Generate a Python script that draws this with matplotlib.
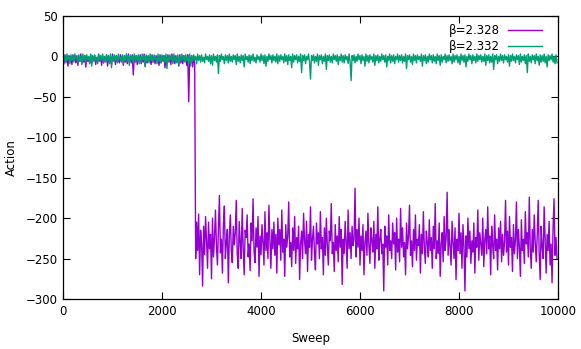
import matplotlib
matplotlib.use("Agg")
import matplotlib.pyplot as plt
import numpy as np

plt.rcParams['font.family'] = ['DejaVu Sans']

step = 20  # sweeps between stored samples

# beta=2.328 : near zero until the tunnelling event, then around -225
beta2328_pre = [-1,-9,2,-6,-3,-12,1,-7,0,-10,2,-5,-2,-8,1,-11,-1,-6,3,-9,
    -2,-7,1,-13,0,-6,-3,-9,2,-8,-1,-5,1,-10,-2,-7,3,-6,0,-11,
    1,-8,-2,-6,2,-12,-1,-7,0,-9,3,-5,-1,-10,1,-7,-2,-8,2,-6,
    0,-11,1,-7,-2,-9,3,-6,-1,-8,2,-23,0,-7,1,-10,-2,-6,2,-9,
    -1,-7,3,-12,0,-8,1,-6,-2,-10,2,-7,-1,-9,1,-5,-3,-11,2,-8,
    0,-6,1,-14,-1,-8,2,-7,0,-10,3,-6,-2,-9,1,-7,-1,-12,2,-8,
    0,-9,1,-6,-2,-11,2,-56,-1,-8,1,-13,0,-9]
beta2328_post = [-250,-205,-240,-195,-270,-215,-232,-284,-210,-245,-198,-228,-262,-205,-238,-220,-275,-200,-248,-225,
    -190,-235,-258,-212,-172,-243,-226,-268,-208,-185,-250,-230,-214,-280,-222,-196,-240,-255,-210,-233,
    -218,-178,-245,-262,-204,-230,-250,-188,-237,-270,-215,-224,-196,-248,-232,-265,-206,-228,-176,-242,
    -255,-212,-236,-198,-272,-222,-245,-208,-230,-258,-192,-240,-218,-250,-184,-228,-262,-214,-238,-205,
    -246,-220,-268,-200,-233,-214,-252,-190,-242,-226,-272,-208,-236,-222,-180,-248,-230,-260,-212,-240,
    -198,-256,-224,-238,-210,-276,-232,-216,-250,-194,-228,-244,-204,-266,-220,-236,-186,-252,-226,-210,
    -242,-264,-206,-232,-218,-250,-192,-238,-224,-270,-212,-246,-200,-234,-258,-216,-228,-182,-244,-230,
    -266,-208,-240,-222,-254,-198,-236,-214,-282,-226,-244,-204,-230,-262,-190,-238,-218,-250,-210,-234,
    -226,-163,-248,-214,-236,-200,-258,-222,-240,-208,-270,-230,-216,-246,-194,-234,-256,-212,-228,-242,
    -204,-262,-220,-238,-186,-252,-226,-214,-244,-232,-290,-210,-236,-222,-258,-196,-240,-228,-250,-206,
    -232,-218,-264,-200,-242,-226,-254,-188,-236,-212,-248,-230,-270,-206,-238,-222,-184,-246,-228,-260,
    -214,-240,-196,-252,-226,-234,-208,-268,-220,-244,-192,-236,-256,-216,-230,-248,-202,-240,-224,-262,
    -210,-238,-182,-250,-228,-244,-206,-272,-232,-218,-254,-198,-240,-226,-168,-246,-214,-236,-258,-204,
    -230,-250,-212,-276,-226,-240,-194,-244,-218,-262,-208,-234,-290,-222,-248,-200,-238,-216,-256,-228,
    -242,-206,-268,-224,-236,-190,-252,-218,-232,-246,-200,-260,-228,-214,-244,-186,-238,-222,-270,-210,
    -234,-250,-196,-240,-226,-264,-212,-238,-204,-254,-220,-246,-230,-178,-242,-216,-258,-198,-236,-224,
    -266,-208,-244,-228,-180,-250,-214,-236,-272,-202,-240,-226,-256,-192,-232,-218,-248,-174,-238,-262,
    -214,-242,-196,-230,-254,-222,-178,-244,-276,-210,-236,-250,-186,-228,-268,-220,-240,-204,-258,-232,
    -280,-212,-176,-246,-224,-250]

# beta=2.332 : stays near zero
beta2332 = [2,-6,1,-8,3,-4,0,-9,2,-5,1,-7,3,-3,-1,-8,2,-6,0,-10,3,-5,1,-7,2,
    -4,0,-8,3,-12,1,-6,2,-5,-1,-9,2,-6,1,-4,3,-8,0,-7,2,-5,1,-9,3,-14,
    0,-6,2,-5,1,-8,3,-4,-1,-7,2,-9,0,-5,3,-6,1,-11,2,-4,0,-8,3,-6,1,
    -5,2,-9,0,-7,3,-4,1,-13,2,-6,0,-8,3,-5,1,-7,2,-4,-1,-9,3,-6,0,-8,
    2,-5,1,-7,3,-15,0,-6,2,-4,1,-9,3,-5,-1,-8,2,-10,0,-6,3,-4,1,-7,2,
    -5,0,-8,3,-12,1,-6,2,-4,0,-9,3,-5,1,-7,2,-6,-1,-8,3,-4,0,-6,2,-9,
    1,-11,3,-5,0,-7,2,-21,1,-6,3,-4,0,-9,2,-5,1,-8,3,-6,0,-7,2,-4,1,
    -10,3,-6,0,-8,2,-5,1,-13,3,-4,0,-7,2,-9,1,-5,3,-6,-1,-8,2,-4,0,-7,
    3,-5,1,-9,2,-12,0,-6,3,-4,1,-8,2,-5,0,-7,3,-9,1,-6,2,-4,0,-8,3,
    -6,1,-10,2,-5,0,-14,3,-7,1,-4,2,-8,0,-6,3,-20,1,-5,2,-9,0,-4,3,-7,
    -28,1,-5,2,-8,0,-6,3,-11,1,-4,2,-9,0,-6,3,-16,1,-5,2,-7,0,-8,3,-4,
    1,-6,2,-10,0,-5,3,-7,1,-8,2,-4,0,-9,3,-6,-30,1,-5,2,-8,0,-6,3,-4,
    1,-9,2,-5,0,-12,3,-6,1,-8,2,-4,0,-7,3,-11,1,-5,2,-8,0,-6,3,-4,1,
    -7,2,-13,0,-5,3,-8,1,-6,2,-9,0,-4,3,-7,1,-5,2,-8,0,-6,3,-15,1,-4,
    2,-7,0,-10,3,-5,1,-8,2,-4,0,-6,3,-12,1,-5,2,-9,0,-7,3,-4,1,-8,2,
    -6,0,-9,3,-5,1,-11,2,-7,0,-4,3,-8,1,-6,2,-5,0,-9,3,-7,1,-4,2,-8,
    0,-10,3,-5,1,-7,2,-13,0,-6,3,-4,1,-9,2,-5,0,-8,3,-6,1,-4,2,-7,0,
    -6,3,-11,1,-5,2,-8,0,-7,3,-16,1,-4,2,-9,0,-6,3,-5,1,-8,2,-4,0,-7,
    2,-12,1,-6,3,-5,0,-8,2,-4,1,-10,3,-7,0,-5,2,-9,1,-20,3,-6,0,-8,2,
    -4,1,-9,3,-5,0,-11,2,-7,1,-6,3,-8,0,-13,2,-5,1,-4,3,-7,0,-9,2,-8]

labels = ['β=2.328', 'β=2.332']
colors = ['#9400D3', '#009E73']
xticks = [0, 2000, 4000, 6000, 8000, 10000]
yticks = [-300, -250, -200, -150, -100, -50, 0, 50]

y1 = np.array(beta2328_pre + beta2328_post, dtype=float)
y2 = np.array(beta2332, dtype=float)
x1 = np.arange(len(y1)) * step
x2 = np.arange(len(y2)) * step

fig = plt.figure(figsize=(5.81, 3.49), dpi=100)
ax = fig.add_axes([63/581, 1-299/349, (558-63)/581, (299-16)/349])
ax.plot(x1, y1, color=colors[0], lw=1.0, label=labels[0])
ax.plot(x2, y2, color=colors[1], lw=1.0, label=labels[1])

ax.set_xlim(0, 10000)
ax.set_ylim(-300, 50)
ax.set_xticks(xticks)
ax.set_yticks(yticks)
ax.tick_params(direction='in', top=True, right=True, length=5, width=0.8,
               labelsize=8.5, pad=4)
for s in ax.spines.values():
    s.set_linewidth(0.9)
ax.set_xlabel('Sweep', fontsize=8.5, labelpad=10.5)
ax.set_ylabel('Action', fontsize=8.5, labelpad=5)

leg = ax.legend(loc='upper right', frameon=False, markerfirst=False,
                fontsize=8.5, handlelength=2.9, handletextpad=0.7,
                labelspacing=0.25, borderaxespad=0.3,
                bbox_to_anchor=(0.985, 1.0))

fig.savefig('out.png', dpi=100)
